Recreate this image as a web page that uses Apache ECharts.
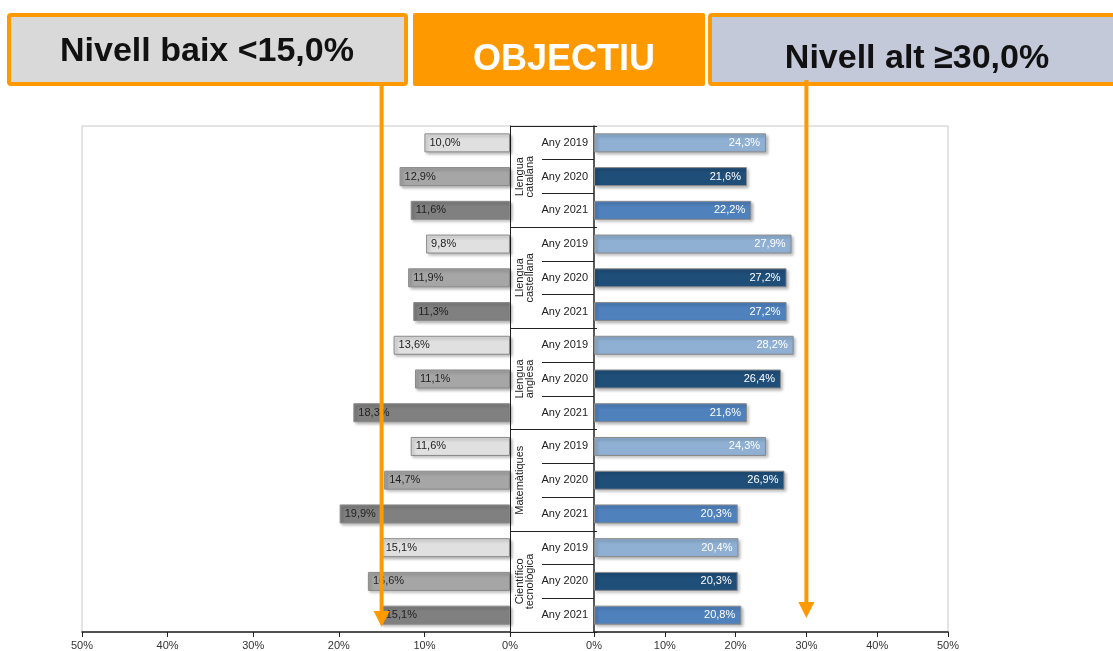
<!DOCTYPE html>
<html>
<head>
<meta charset="utf-8">
<script src="https://cdn.jsdelivr.net/npm/echarts@6/dist/echarts.min.js"></script>
<style>
    html, body { margin: 0; padding: 0; background: #fff; }
    #chart { width: 1113px; height: 651px; }
</style>
</head>
<body>
<div id="chart"></div>
<script>
    // dades
    var groups = ['Llengua\ncatalana', 'Llengua\ncastellana', 'Llengua\nanglesa', 'Matemàtiques', 'Científico\ntecnològica'];
    var years = ['Any 2019', 'Any 2020', 'Any 2021'];
    var rows = [];
    for (var g = 0; g < groups.length; g++) {
        for (var y = 0; y < years.length; y++) rows.push(years[y]);
    }
    var nivellBaix = [10.0, 12.9, 11.6, 9.8, 11.9, 11.3, 13.6, 11.1, 18.3, 11.6, 14.7, 19.9, 15.1, 16.6, 15.1];
    var nivellAlt = [24.3, 21.6, 22.2, 27.9, 27.2, 27.2, 28.2, 26.4, 21.6, 24.3, 26.9, 20.3, 20.4, 20.3, 20.8];
    var objectiuBaix = 15;
    var objectiuAlt = 30;
    var ticks = [0, 10, 20, 30, 40, 50];

    var greyColors = ['#e0e0e0', '#a6a6a6', '#808080'];
    var blueColors = ['#8fb0d3', '#1f4e79', '#4f81bd'];
    var narrow = '"Liberation Sans Narrow", "Arial Narrow", "Liberation Sans", sans-serif';
    var orange = '#ff9900';

    var myChart = echarts.init(document.getElementById('chart'));

    function xAxisFor(idx, inverse) {
        return {
            type: 'value', gridIndex: idx, inverse: inverse,
            min: ticks[0], max: ticks[ticks.length - 1], interval: 10,
            axisLine: { show: true, lineStyle: { color: '#222', width: 1.5 } },
            axisTick: { show: true, length: 5, lineStyle: { color: '#222' } },
            splitLine: { show: false },
            axisLabel: { formatter: '{value}%', fontSize: 11, color: '#333', fontFamily: narrow, margin: 8 }
        };
    }

    var barStyle = {
        borderColor: '#8a8a8a', borderWidth: 1,
        shadowBlur: 3, shadowOffsetX: 2, shadowOffsetY: 2, shadowColor: 'rgba(0,0,0,0.3)'
    };

    function pct(p) { return p.value.toFixed(1).replace('.', ',') + '%'; }

    myChart.setOption({
        animation: false,
        grid: [
            { left: 82, right: 603, top: 126, bottom: 19 },
            { left: 594, right: 165, top: 126, bottom: 19 }
        ],
        xAxis: [xAxisFor(0, true), xAxisFor(1, false)],
        yAxis: [
            {   // eix de files, panell esquerre
                type: 'category', gridIndex: 0, data: rows, inverse: true, position: 'right',
                axisLine: { show: true, lineStyle: { color: '#222', width: 1 } },
                axisTick: { show: false }, axisLabel: { show: false }
            },
            {   // grups de matèries
                type: 'category', gridIndex: 0, data: groups, inverse: true, position: 'right',
                axisLine: { show: false },
                axisTick: { show: true, length: 87, lineStyle: { color: '#222', width: 1 } },
                axisLabel: { rotate: 90, fontSize: 11, color: '#222', margin: 5, lineHeight: 10,
                    fontFamily: '"Liberation Sans", Arial, sans-serif' }
            },
            {   // anys, panell dret
                type: 'category', gridIndex: 1, data: rows, inverse: true, position: 'left',
                axisLine: { show: true, lineStyle: { color: '#222', width: 1.5 } },
                axisTick: { show: true, length: 52, lineStyle: { color: '#222', width: 1 } },
                axisLabel: { interval: 0, fontSize: 11, color: '#222', fontFamily: narrow, margin: 6 }
            }
        ],
        series: [
            {
                name: 'Nivell baix', type: 'bar', xAxisIndex: 0, yAxisIndex: 0,
                data: nivellBaix, barWidth: 19,
                itemStyle: Object.assign({}, barStyle, {
                    color: function (p) { return greyColors[p.dataIndex % 3]; }
                }),
                label: {
                    show: true, position: 'insideLeft', distance: 5, formatter: pct,
                    fontSize: 11, color: '#222', fontFamily: narrow
                }
            },
            {
                name: 'Nivell alt', type: 'bar', xAxisIndex: 1, yAxisIndex: 2,
                data: nivellAlt, barWidth: 19,
                itemStyle: Object.assign({}, barStyle, {
                    color: function (p) { return blueColors[p.dataIndex % 3]; }
                }),
                label: {
                    show: true, position: 'insideRight', distance: 6, formatter: pct,
                    fontSize: 11, color: '#fff', fontFamily: narrow
                }
            }
        ]
    });

    // capçalera, marc i fletxes
    var xBaix = myChart.convertToPixel({ xAxisIndex: 0 }, objectiuBaix);
    var xAlt = myChart.convertToPixel({ xAxisIndex: 1 }, objectiuAlt);
    var headFont = 'bold 34px "Liberation Sans", Arial, sans-serif';

    function arrow(x, y0, y1) {
        return [
            { type: 'line', z: 50, shape: { x1: x, y1: y0, x2: x, y2: y1 - 12 },
              style: { stroke: orange, lineWidth: 4 } },
            { type: 'polygon', z: 50, shape: { points: [[x - 8, y1 - 16], [x + 8, y1 - 16], [x, y1]] },
              style: { fill: orange } }
        ];
    }

    myChart.setOption({
        graphic: [
            { type: 'rect', z: -1, shape: { x: 82, y: 126, width: 866, height: 506 },
              style: { fill: 'none', stroke: '#c8c8c8', lineWidth: 1 } },
            { type: 'rect', shape: { x: 9, y: 15, width: 397, height: 69, r: 2 },
              style: { fill: '#d9d9d9', stroke: orange, lineWidth: 4 } },
            { type: 'text', style: { x: 207, y: 52, text: 'Nivell baix <15,0%', font: headFont, fill: '#111',
              align: 'center', verticalAlign: 'middle' } },
            { type: 'rect', shape: { x: 413, y: 13, width: 292, height: 73, r: 2 },
              style: { fill: orange } },
            { type: 'text', style: { x: 564, y: 60, text: 'OBJECTIU', font: 'bold 36px "Liberation Sans", Arial, sans-serif',
              fill: '#fff', align: 'center', verticalAlign: 'middle' } },
            { type: 'rect', shape: { x: 710, y: 15, width: 410, height: 69, r: 2 },
              style: { fill: '#c3c9d9', stroke: orange, lineWidth: 4 } },
            { type: 'text', style: { x: 917, y: 59, text: 'Nivell alt ≥30,0%', font: headFont, fill: '#111',
              align: 'center', verticalAlign: 'middle' } }
        ].concat(arrow(xBaix, 86, 627)).concat(arrow(xAlt, 80, 618))
    });
</script>
</body>
</html>
